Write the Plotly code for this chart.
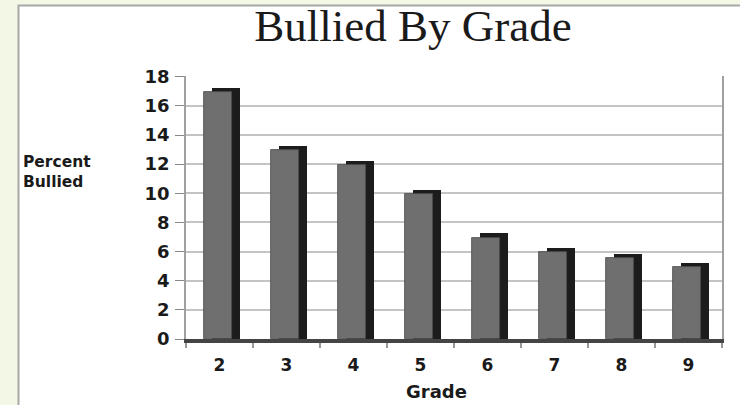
import plotly.graph_objects as go

grades = ["2", "3", "4", "5", "6", "7", "8", "9"]
percent_bullied = [17, 13, 12, 10, 7, 6, 5.6, 5]
y_ticks = [0, 2, 4, 6, 8, 10, 12, 14, 16, 18]

W, H = 740, 405
L, R, T, B = 186, 18, 76, 66
pw, ph = W - L - R, H - T - B

def px_x(px):
    return (px - L) / pw

def px_y(py):
    return (H - B - py) / ph

fig = go.Figure()
# dark side / top face of the pseudo-3D bars
fig.add_trace(go.Bar(
    x=grades, y=[v + 0.25 for v in percent_bullied],
    width=0.42, offset=-0.21 + 0.1,
    marker=dict(color="#1c1c1c", line=dict(width=0)),
    hoverinfo="skip", showlegend=False,
))
# front face
fig.add_trace(go.Bar(
    x=grades, y=[v - 0.05 for v in percent_bullied],
    width=0.42, offset=-0.21 - 0.02,
    marker=dict(color="#6f6f6f", line=dict(color="#4a4a4a", width=0.8)),
    showlegend=False, name="Percent Bullied",
))

fig.update_layout(
    width=W, height=H,
    margin=dict(l=L, r=R, t=T, b=B),
    paper_bgcolor="#f2f7e6",
    plot_bgcolor="white",
    barmode="overlay",
    bargap=0,
    title=dict(
        text="Bullied By Grade",
        font=dict(family="Liberation Serif, Times New Roman, serif", size=45, color="#1a1a1a"),
        xref="container", x=413 / W, xanchor="center",
        yref="container", y=1 - 25 / H, yanchor="middle",
    ),
    shapes=[dict(
        type="rect", xref="paper", yref="paper", layer="below",
        x0=px_x(18.5), x1=px_x(760), y0=px_y(430), y1=px_y(5.5),
        fillcolor="white", line=dict(color="#a8a8a8", width=2),
    )],
    annotations=[
        dict(
            text="Percent<br>Bullied", xref="paper", yref="paper",
            x=px_x(21), y=px_y(172), xanchor="left", yanchor="middle", align="left",
            showarrow=False,
            font=dict(family="DejaVu Sans", size=15.5, color="#1a1a1a", weight="bold"),
        ),
        dict(
            text="Grade", xref="paper", yref="paper",
            x=px_x(436), y=px_y(391), xanchor="center", yanchor="middle",
            showarrow=False,
            font=dict(family="DejaVu Sans", size=18, color="#1a1a1a", weight="bold"),
        ),
    ],
)

fig.update_xaxes(
    type="category",
    range=[-0.5, 7.5],
    tickson="boundaries",
    ticks="outside", ticklen=5, tickcolor="#999999", tickwidth=1.5,
    showline=True, linecolor="#444444", linewidth=4,
    showgrid=False,
    tickfont=dict(family="DejaVu Sans", size=17, color="#1a1a1a", weight="bold"),
    ticklabelstandoff=8,
)
fig.update_yaxes(
    range=[0, 18.05],
    tickvals=y_ticks,
    ticks="outside", ticklen=9, tickcolor="#888888", tickwidth=1.2,
    showline=True, mirror=True, linecolor="#a0a0a0", linewidth=1.5,
    showgrid=True, gridcolor="#c4c4c4", gridwidth=1.6,
    zeroline=False,
    tickfont=dict(family="DejaVu Sans", size=18, color="#1a1a1a", weight="bold"),
    ticklabelstandoff=2,
)

fig.write_html(
    "out.html",
    config={"displayModeBar": False},
    post_script="document.body.style.margin='0';",
)
